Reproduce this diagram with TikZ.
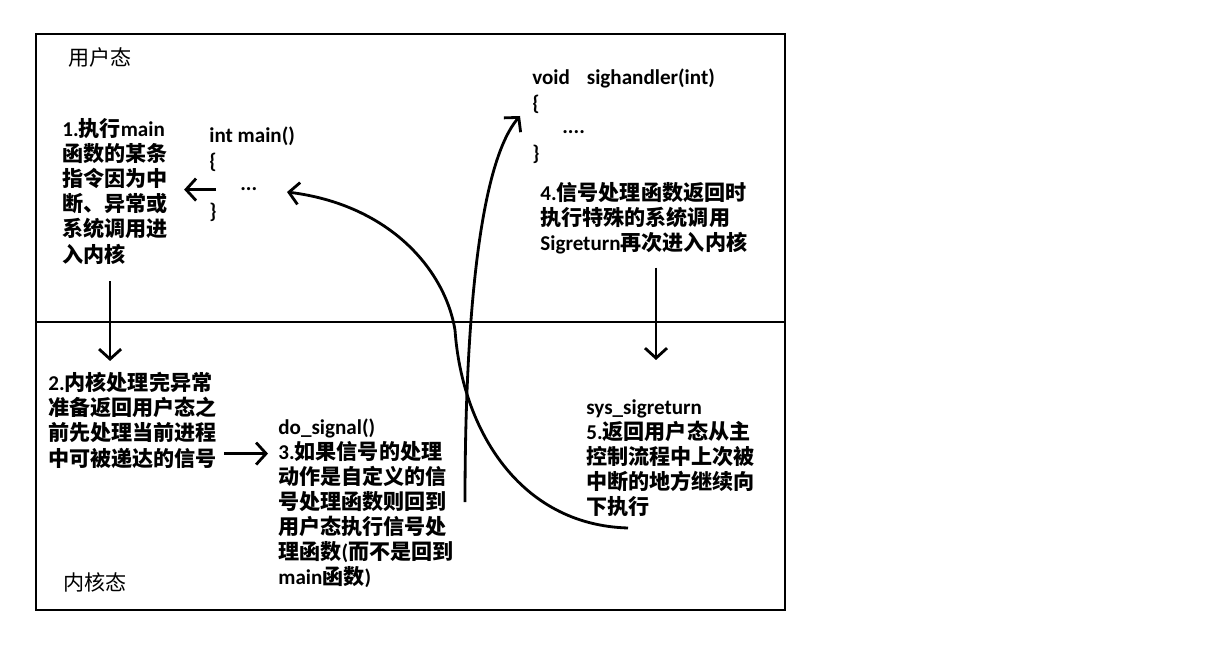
\documentclass[tikz,border=0pt]{standalone}
\usepackage{fontspec}
\setmainfont{Carlito}
\newfontfamily\cjk{Noto Sans CJK SC}
\usetikzlibrary{arrows.meta}
\usetikzlibrary{calc}

\newcommand{\zh}[1]{{\cjk #1}}

\begin{document}
\begin{tikzpicture}[x=0.2mm,y=-0.2mm,
    txt/.style={anchor=north west,inner sep=0pt,align=left,font=\fontsize{12}{14.3}\selectfont\bfseries},
    lbl/.style={anchor=base west,inner sep=0pt,font=\fontsize{12}{14.3}\selectfont\cjk},
    frame/.style={line width=1.6pt},
    arr/.style={line width=1.6pt,-{Straight Barb[length=2mm,width=4.4mm]}}]
        \newcommand{\figsigleft}{36}
        \newcommand{\figsigright}{785}
        \newcommand{\figsigtop}{34}
        \newcommand{\figsigbottom}{610}
        \newcommand{\figsigmid}{322}
        \useasboundingbox (0,0) rectangle (1226,648);
        \draw[frame] (\figsigleft,\figsigtop) rectangle (\figsigright,\figsigbottom);
        \draw[frame] (\figsigleft,\figsigmid) -- (\figsigright,\figsigmid);
        \node[lbl] (userlbl) at (68,66) {用户态};
        \node[lbl] (kernlbl) at (63,590) {内核态};
        % user mode
        \node[txt] (step1) at (62,118) {1.\zh{执行}main\\\zh{函数的某条}\\\zh{指令因为中}\\\zh{断、异常或}\\\zh{系统调用进}\\\zh{入内核}};
        \node[txt] (mainc) at (209,127) {int main()\\\{\\\mbox{}\\\}};
        \node[txt,anchor=base west] (maindots) at (240,191) {...};
        \node[txt] (sighc) at (532,69) {void\hspace{0.8em}sighandler(int)\\\{\\\mbox{}\\\}};
        \node[txt,anchor=base west] (sighdots) at (562,134) {....};
        \node[txt] (step4) at (540,182) {4.\zh{信号处理函数返回时}\\\zh{执行特殊的系统调用}\\Sigreturn\zh{再次进入内核}};
        % kernel mode
        \node[txt] (step2) at (48,372) {2.\zh{内核处理完异常}\\\zh{准备返回用户态之}\\\zh{前先处理当前进程}\\\zh{中可被递达的信号}};
        \node[txt] (step3) at (278,418) {do\_signal()\\3.\zh{如果信号的处理}\\\zh{动作是自定义的信}\\\zh{号处理函数则回到}\\\zh{用户态执行信号处}\\\zh{理函数}(\zh{而不是回到}\\main\zh{函数})};
        \node[txt] (step5) at (586,399) {sys\_sigreturn\\5.\zh{返回用户态从主}\\\zh{控制流程中上次被}\\\zh{中断的地方继续向}\\\zh{下执行}};
        \coordinate (jumpout) at (465,502);
        \coordinate (jumpin) at (520,116);
        \coordinate (backout) at (628,528);
        \coordinate (backin) at (287,192);
        \draw[arr,shorten >=2.2mm] ([xshift=-1mm,yshift=-3.4mm]step1.south) -- ([xshift=-1mm]step1.south |- step2.north);
        \draw[arr,shorten >=3.2mm] ([xshift=-4.8mm]maindots.west) -- (maindots.west -| step1.east);
        \draw[arr,shorten >=2mm] ([xshift=1.4mm,yshift=3mm]step2.south east) -- ([yshift=3mm]step2.south east -| step3.west);
        \draw[arr,shorten >=7.8mm] ([xshift=23.2mm,yshift=-2.6mm]step4.south west) -- ([xshift=23.2mm]step4.south west |- step5.north);
        \draw[arr] (jumpout) .. controls (465,330) and (478,165) .. (jumpin);
        \draw[arr] (backout) .. controls (520,525) and (462,430) .. (455,330) .. controls (445,270) and (390,205) .. (backin);
    \end{tikzpicture}
\end{document}
